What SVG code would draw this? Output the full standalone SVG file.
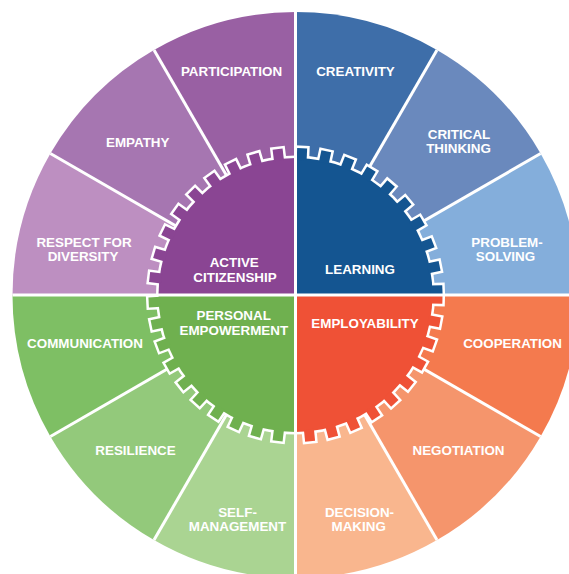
<svg xmlns="http://www.w3.org/2000/svg" xmlns:xlink="http://www.w3.org/1999/xlink" width="569" height="574" viewBox="0 0 569 574">
<style>
.lbl{font-family:"Liberation Sans",Arial,Helvetica,sans-serif;font-weight:bold;font-size:13.4px;fill:#fff;text-anchor:middle}
.u{fill:#fff;stroke:#fff;stroke-width:5;stroke-linejoin:miter}
.div line{stroke:#fff;stroke-width:3}
</style>
<defs>
<rect id="t" x="-5" y="-147" width="10" height="12"/>
<clipPath id="cq1"><rect x="0" y="-170" width="170" height="170"/></clipPath>
<clipPath id="cq2"><rect x="0" y="0" width="170" height="170"/></clipPath>
<clipPath id="cq3"><rect x="-170" y="0" width="170" height="170"/></clipPath>
<clipPath id="cq4"><rect x="-170" y="-170" width="170" height="170"/></clipPath>
<g id="tq1"><circle r="137"/><use href="#t" transform="rotate(2.6)"/><use href="#t" transform="rotate(12.1)"/><use href="#t" transform="rotate(21.6)"/><use href="#t" transform="rotate(31.1)"/><use href="#t" transform="rotate(40.6)"/><use href="#t" transform="rotate(50.1)"/><use href="#t" transform="rotate(59.6)"/><use href="#t" transform="rotate(69.1)"/><use href="#t" transform="rotate(78.6)"/><use href="#t" transform="rotate(88.1)"/></g>
<g id="tq2"><circle r="137"/><use href="#t" transform="rotate(91.5)"/><use href="#t" transform="rotate(100.7)"/><use href="#t" transform="rotate(109.9)"/><use href="#t" transform="rotate(119.1)"/><use href="#t" transform="rotate(128.3)"/><use href="#t" transform="rotate(137.5)"/><use href="#t" transform="rotate(146.7)"/><use href="#t" transform="rotate(155.9)"/><use href="#t" transform="rotate(165.1)"/><use href="#t" transform="rotate(174.3)"/></g>
<g id="tq3"><circle r="137"/><use href="#t" transform="rotate(187)"/><use href="#t" transform="rotate(195.9)"/><use href="#t" transform="rotate(204.8)"/><use href="#t" transform="rotate(213.7)"/><use href="#t" transform="rotate(222.6)"/><use href="#t" transform="rotate(231.5)"/><use href="#t" transform="rotate(240.4)"/><use href="#t" transform="rotate(249.3)"/><use href="#t" transform="rotate(258.2)"/><use href="#t" transform="rotate(267.1)"/></g>
<g id="tq4"><circle r="137"/><use href="#t" transform="rotate(277)"/><use href="#t" transform="rotate(286.5)"/><use href="#t" transform="rotate(296)"/><use href="#t" transform="rotate(305.5)"/><use href="#t" transform="rotate(315)"/><use href="#t" transform="rotate(324.5)"/><use href="#t" transform="rotate(334)"/><use href="#t" transform="rotate(343.5)"/><use href="#t" transform="rotate(353)"/></g>
</defs>
<rect width="569" height="574" fill="#fff"/>

<g id="creativity"><path d="M295.5,295 L295.5,12 A283,283 0 0 1 437,49.9 Z" fill="#3e6ea9"/><text class="lbl" x="355.5" y="76">CREATIVITY</text></g>
<g id="critical-thinking"><path d="M295.5,295 L437,49.9 A283,283 0 0 1 540.6,153.5 Z" fill="#6a89bd"/><text class="lbl" x="459" y="138.5">CRITICAL</text><text class="lbl" x="458.5" y="153.3">THINKING</text></g>
<g id="problem-solving"><path d="M295.5,295 L540.6,153.5 A283,283 0 0 1 578.5,295 Z" fill="#84aedb"/><text class="lbl" x="507" y="246.7">PROBLEM-</text><text class="lbl" x="505.5" y="261">SOLVING</text></g>
<g id="cooperation"><path d="M295.5,295 L578.5,295 A283,283 0 0 1 540.6,436.5 Z" fill="#f47a4e"/><text class="lbl" x="512.5" y="348.3">COOPERATION</text></g>
<g id="negotiation"><path d="M295.5,295 L540.6,436.5 A283,283 0 0 1 437,540.1 Z" fill="#f5956c"/><text class="lbl" x="458.5" y="455">NEGOTIATION</text></g>
<g id="decision-making"><path d="M295.5,295 L437,540.1 A283,283 0 0 1 295.5,578 Z" fill="#f9b68e"/><text class="lbl" x="359.5" y="516.7">DECISION-</text><text class="lbl" x="358.7" y="530.7">MAKING</text></g>
<g id="self-management"><path d="M295.5,295 L295.5,578 A283,283 0 0 1 154,540.1 Z" fill="#aad492"/><text class="lbl" x="237.5" y="516.7">SELF-</text><text class="lbl" x="237.5" y="530.7">MANAGEMENT</text></g>
<g id="resilience"><path d="M295.5,295 L154,540.1 A283,283 0 0 1 50.4,436.5 Z" fill="#93c97b"/><text class="lbl" x="135.5" y="455">RESILIENCE</text></g>
<g id="communication"><path d="M295.5,295 L50.4,436.5 A283,283 0 0 1 12.5,295 Z" fill="#7ebf64"/><text class="lbl" x="85" y="348.3">COMMUNICATION</text></g>
<g id="respect-for-diversity"><path d="M295.5,295 L12.5,295 A283,283 0 0 1 50.4,153.5 Z" fill="#bd8fc1"/><text class="lbl" x="84" y="246.7">RESPECT FOR</text><text class="lbl" x="83" y="261">DIVERSITY</text></g>
<g id="empathy"><path d="M295.5,295 L50.4,153.5 A283,283 0 0 1 154,49.9 Z" fill="#a676b1"/><text class="lbl" x="137.7" y="146.7">EMPATHY</text></g>
<g id="participation"><path d="M295.5,295 L154,49.9 A283,283 0 0 1 295.5,12 Z" fill="#9960a3"/><text class="lbl" x="231.5" y="76">PARTICIPATION</text></g>

<g id="connectors" class="div">
<line x1="437" y1="49.9" x2="154" y2="540.1"/>
<line x1="540.6" y1="153.5" x2="50.4" y2="436.5"/>
<line x1="540.6" y1="436.5" x2="50.4" y2="153.5"/>
<line x1="437" y1="540.1" x2="154" y2="49.9"/>
</g>

<g transform="translate(295.5,295)">
<g id="learning" clip-path="url(#cq1)"><use href="#tq1" class="u"/><use href="#tq1" fill="#145591"/></g>
<g id="employability" clip-path="url(#cq2)"><use href="#tq2" class="u"/><use href="#tq2" fill="#ef5136"/></g>
<g id="personal-empowerment" clip-path="url(#cq3)"><use href="#tq3" class="u"/><use href="#tq3" fill="#6fb04f"/></g>
<g id="active-citizenship" clip-path="url(#cq4)"><use href="#tq4" class="u"/><use href="#tq4" fill="#8a4593"/></g>
</g>

<g id="axes" class="div">
<line x1="295.5" y1="12" x2="295.5" y2="578"/>
<line x1="12.5" y1="295" x2="578.5" y2="295"/>
</g>

<g id="gear-labels">
<text class="lbl" x="234.2" y="266.7">ACTIVE</text><text class="lbl" x="235" y="281.7">CITIZENSHIP</text>
<text class="lbl" x="360" y="274">LEARNING</text>
<text class="lbl" x="233.7" y="320">PERSONAL</text><text class="lbl" x="233.8" y="335">EMPOWERMENT</text>
<text class="lbl" x="365" y="327.7">EMPLOYABILITY</text>
</g>
</svg>
